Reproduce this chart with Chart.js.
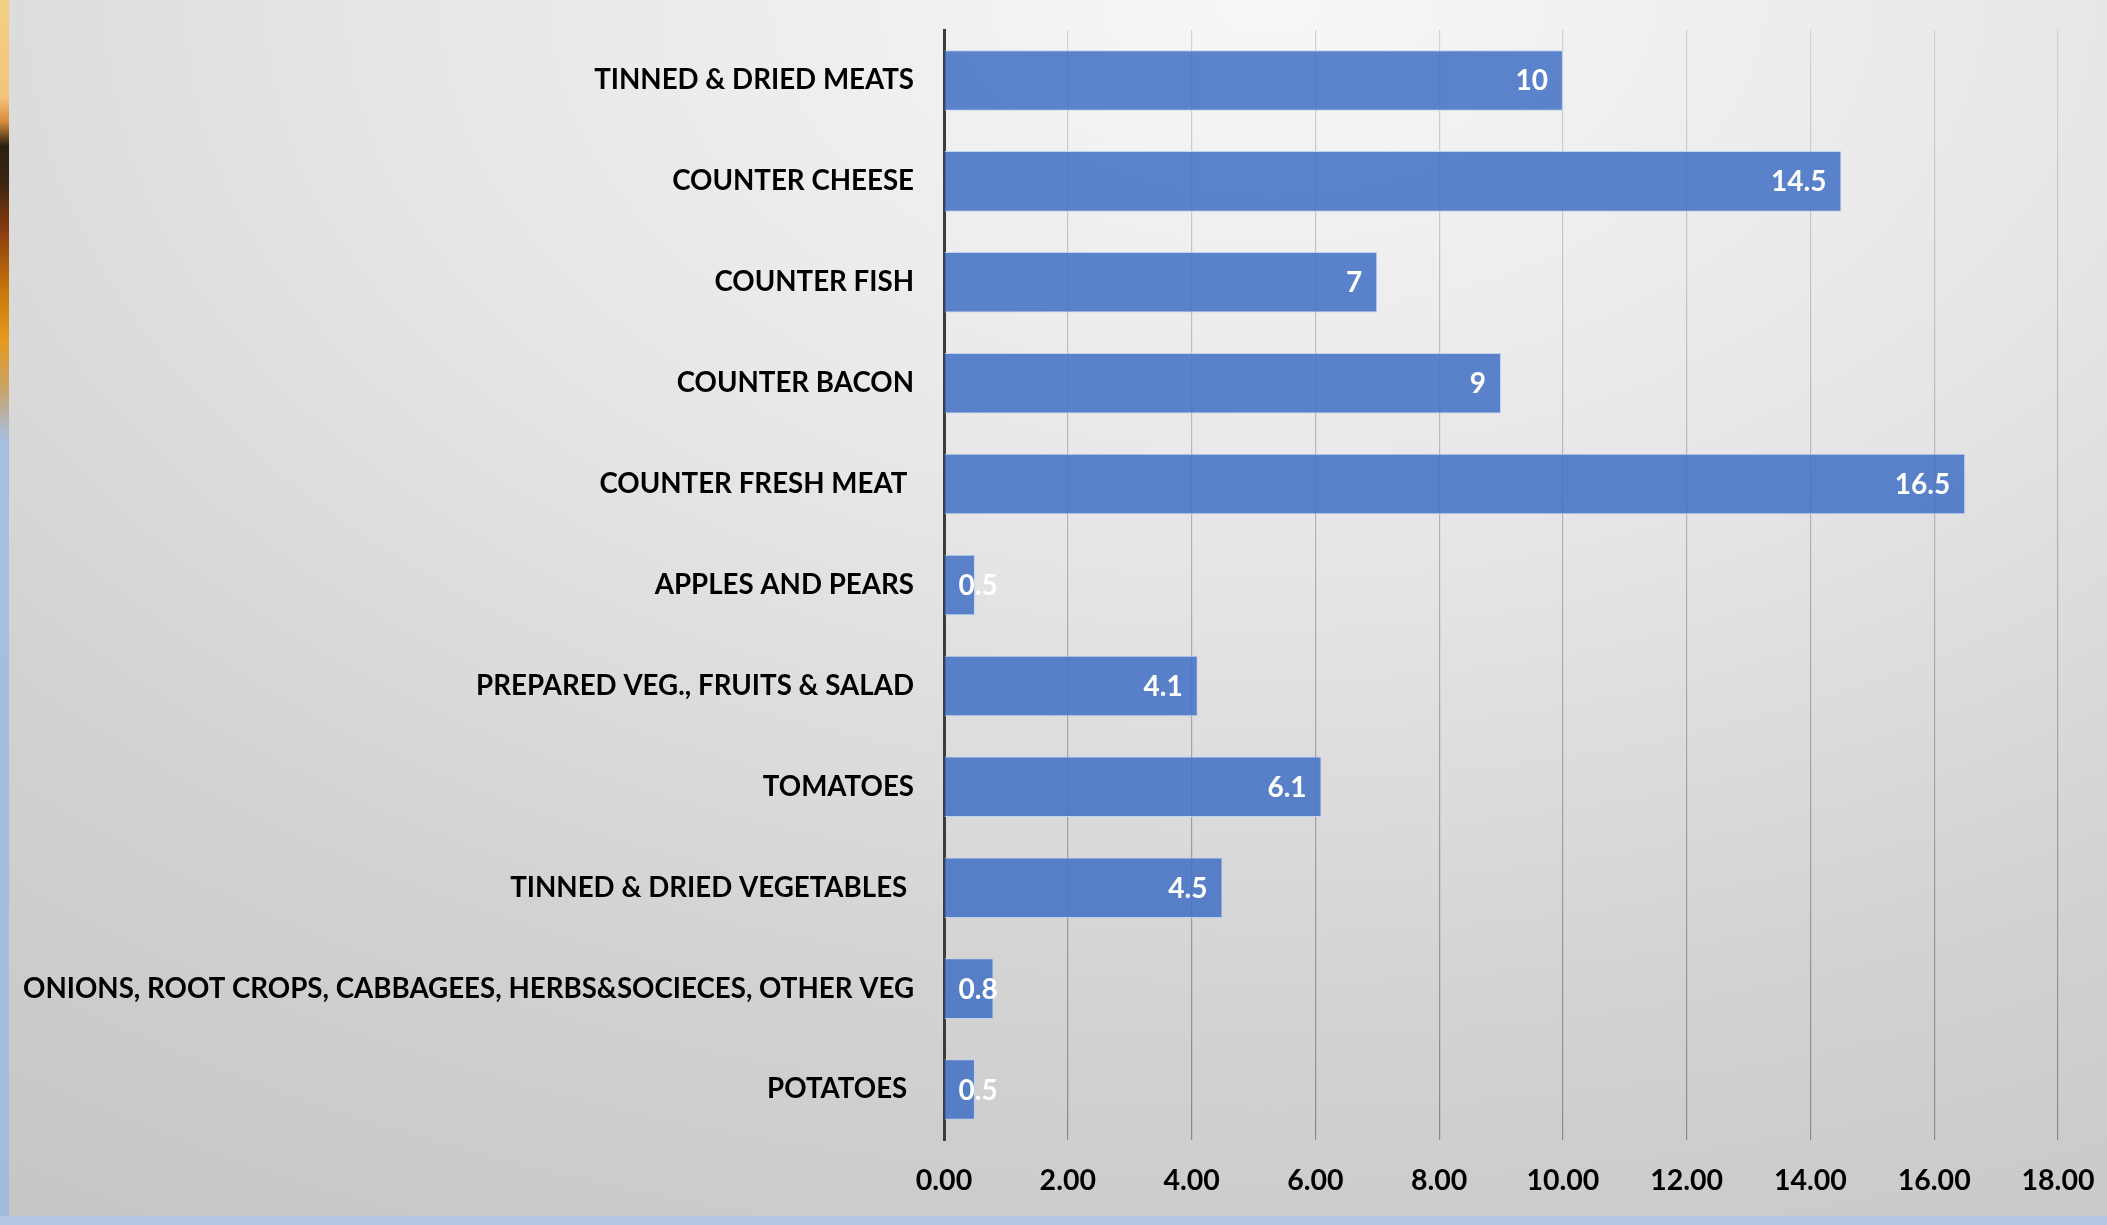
<!DOCTYPE html>
<html>
<head>
<meta charset="utf-8">
<script src="https://cdn.jsdelivr.net/npm/chart.js@4.4.1/dist/chart.umd.min.js"></script>
<style>
  html, body { margin: 0; padding: 0; width: 2107px; height: 1225px; overflow: hidden; }
  body { background: linear-gradient(180deg, #a9c0de 0%, #b4c8e4 100%); position: relative; }
  #strip { position: absolute; left: 0; top: 0; width: 9px; height: 1216px;
    background: linear-gradient(180deg, #f2cf86 0%, #f4c47c 8%, #d88c3c 10%, #2c2010 12%, #3a2410 15%, #8a3c10 19%, #c8780c 24%, #e49a1e 28%, #c9a36a 32%, #a8bede 36%, #a4bcdc 100%); }
  #panel { position: absolute; left: 9px; top: 0; width: 2098px; height: 1216px;
    background: radial-gradient(ellipse 120% 130% at 60% 0%, #f7f7f7 0%, #e6e6e6 35%, #d2d2d2 65%, #c2c2c2 100%); }
</style>
</head>
<body>
<div id="strip"></div>
<div id="panel"><canvas id="foodBars" width="2098" height="1216"></canvas></div>
<script>
var categories = [
  "TINNED & DRIED MEATS",
  "COUNTER CHEESE",
  "COUNTER FISH",
  "COUNTER BACON",
  "COUNTER FRESH MEAT ",
  "APPLES AND PEARS",
  "PREPARED VEG., FRUITS & SALAD",
  "TOMATOES",
  "TINNED & DRIED VEGETABLES ",
  "ONIONS, ROOT CROPS, CABBAGEES, HERBS&SOCIECES, OTHER VEG",
  "POTATOES "
];
var values = [10, 14.5, 7, 9, 16.5, 0.5, 4.1, 6.1, 4.5, 0.8, 0.5];
var xTicks = [0, 2, 4, 6, 8, 10, 12, 14, 16, 18];

var fontFamily = "Lato, 'Open Sans', sans-serif";

// white value labels at the inner end of each bar (at the base when the bar is too short)
var barValueLabels = {
  id: 'barValueLabels',
  afterDatasetsDraw: function (chart) {
    var ctx = chart.ctx;
    var meta = chart.getDatasetMeta(0);
    ctx.save();
    ctx.font = "bold 28px " + fontFamily;
    ctx.fillStyle = '#ffffff';
    ctx.textBaseline = 'middle';
    meta.data.forEach(function (bar, i) {
      var txt = String(values[i]);
      var w = ctx.measureText(txt).width;
      var len = bar.x - bar.base;
      if (len > w + 30) {
        ctx.textAlign = 'right';
        ctx.fillText(txt, bar.x - 15, bar.y + 1);
      } else {
        ctx.textAlign = 'left';
        ctx.fillText(txt, bar.base + 14, bar.y + 1);
      }
    });
    ctx.restore();
  }
};

var foodBars = document.getElementById("foodBars");
var foodBarsConfig = {
  type: 'bar',
  data: {
    labels: categories,
    datasets: [{
      data: values,
      backgroundColor: 'rgba(68,114,196,0.87)',
      borderColor: 'rgba(190,208,240,0.9)',
      borderWidth: 1,
      categoryPercentage: 1,
      barPercentage: 0.6
    }]
  },
  options: {
    indexAxis: 'y',
    responsive: false,
    animation: false,
    layout: { padding: { top: 30, right: 49, left: 0, bottom: 0 } },
    plugins: {
      legend: { display: false },
      tooltip: { enabled: false }
    },
    scales: {
      x: {
        min: 0,
        max: 18,
        afterBuildTicks: function (scale) {
          scale.ticks = xTicks.map(function (v) { return { value: v }; });
        },
        afterFit: function (scale) {
          scale.height = 76;
          scale.paddingLeft = 0;
          scale.paddingRight = 0;
        },
        border: { display: false },
        grid: {
          drawTicks: false,
          lineWidth: 1.2,
          color: function (context) {
            if (context.tick && context.tick.value === 0) return 'rgba(0,0,0,0)';
            var area = context.chart.chartArea;
            if (!area) return '#aaaaaa';
            var g = context.chart.ctx.createLinearGradient(0, area.top, 0, area.bottom);
            g.addColorStop(0, '#d3d3d3');
            g.addColorStop(1, '#8a8a8a');
            return g;
          }
        },
        ticks: {
          padding: 24,
          color: '#000000',
          font: { family: fontFamily, size: 28.5, weight: 'bold' },
          callback: function (v) { return Number(v).toFixed(2); }
        }
      },
      y: {
        afterFit: function (scale) {
          scale.width = 935;
          scale.paddingTop = 0;
          scale.paddingBottom = 0;
        },
        border: { display: true, color: '#3c3c3c', width: 3 },
        grid: { display: false },
        ticks: {
          padding: 22,
          color: '#000000',
          font: { family: fontFamily, size: 27.7, weight: 'bold' }
        }
      }
    }
  },
  plugins: [barValueLabels]
};
var foodBarsObj = new Chart(foodBars, foodBarsConfig);
</script>
</body>
</html>
